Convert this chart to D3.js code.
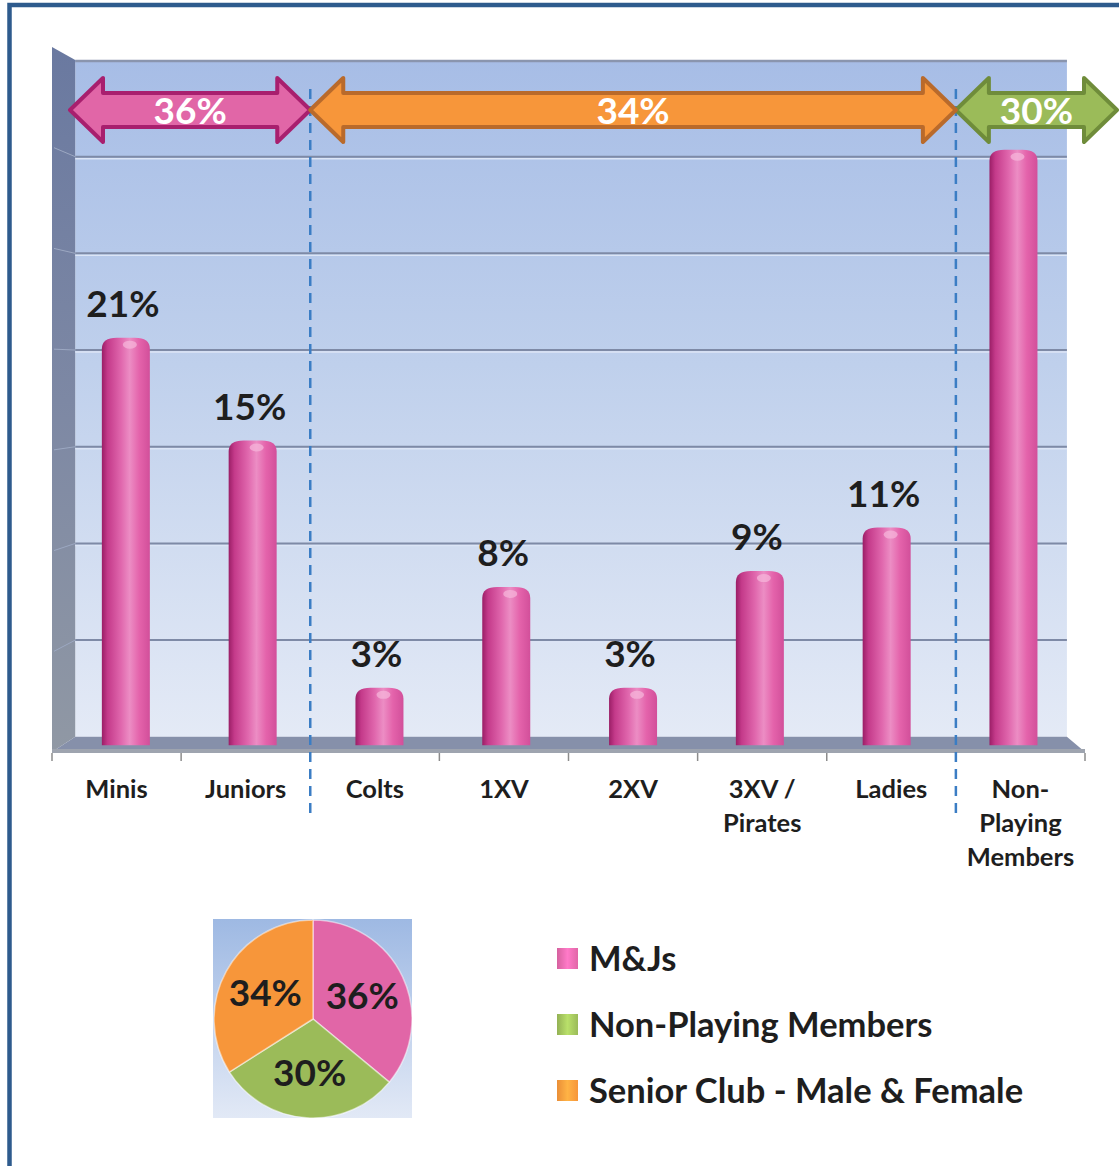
<!DOCTYPE html>
<html>
<head>
<meta charset="UTF-8">
<title>Membership</title>
<style>
    body { margin: 0; background: #fff; }
    text { font-family: Lato, "Open Sans", sans-serif; font-weight: bold; }
</style>
</head>
<body>
<script src="https://d3js.org/d3.v7.min.js"></script>
<script>
    // membership share per section (bars, % of members)
    var categories = ["Minis", "Juniors", "Colts", "1XV", "2XV", "3XV /\nPirates", "Ladies", "Non-\nPlaying\nMembers"];
    var values = [20.6, 15.4, 2.9, 8.0, 2.9, 8.8, 11.0, 30.1];
    var groupOf = [0, 0, 2, 2, 2, 2, 2, 1];   // which group each section belongs to

    // groups (legend + pie + arrows)
    var groupNames = ["M&Js", "Non-Playing Members", "Senior Club - Male & Female"];
    var groupShares = [36, 30, 34];
    var groupFill = ["#E166A7", "#9BBB59", "#F7963A"];
    var groupStroke = ["#A81F6E", "#6F8C3A", "#B96A2B"];

    var gridTicks = [5, 10, 15, 20, 25, 30];

    var W = 1119, H = 1166;

    var svg = d3.select("body").append("svg")
            .attr("width", W)
            .attr("height", H);

    var defs = svg.append("defs");

    function vGrad(id, stops) {
        var g = defs.append("linearGradient").attr("id", id)
                .attr("x1", 0).attr("y1", 0).attr("x2", 0).attr("y2", 1);
        stops.forEach(function (s) { g.append("stop").attr("offset", s[0]).attr("stop-color", s[1]); });
    }
    function hGrad(id, stops) {
        var g = defs.append("linearGradient").attr("id", id)
                .attr("x1", 0).attr("y1", 0).attr("x2", 1).attr("y2", 0);
        stops.forEach(function (s) { g.append("stop").attr("offset", s[0]).attr("stop-color", s[1]); });
    }

    vGrad("wall", [[0, "#A7BDE6"], [0.45, "#BFD0EC"], [1, "#E4EAF6"]]);
    vGrad("side", [[0, "#6A79A0"], [0.5, "#7D88A4"], [1, "#9098A4"]]);
    vGrad("pieBg", [[0, "#9EB9E3"], [1, "#E2E9F6"]]);
    hGrad("cyl", [[0, "#9A1E66"], [0.12, "#C43A8A"], [0.4, "#E067AD"], [0.58, "#EC8DC4"], [0.78, "#E463AB"], [1, "#D24F9A"]]);
    groupFill.forEach(function (c, i) {
        hGrad("leg" + i, [[0, d3.color(c).darker(0.15)], [0.5, d3.color(c).brighter(0.5)], [1, c]]);
    });

    // frame
    svg.append("rect")
            .attr("x", 9.5).attr("y", 5)
            .attr("width", W + 20).attr("height", H + 20)
            .attr("fill", "none")
            .attr("stroke", "#2E5B8D")
            .attr("stroke-width", 4.5);

    // front plane scales, depth is a perspective shrink toward a vanishing point
    var x = d3.scaleBand().domain(categories).range([52, 1085]).padding(0);
    var y = d3.scaleLinear().domain([0, 35]).range([752, 47]);
    var vx = 633, vy = 372;
    var kBack = 0.96, kBar = 0.982;
    function px(v, k) { return vx + (v - vx) * k; }
    function py(v, k) { return vy + (v - vy) * k; }

    var x0 = x.range()[0], x1 = x.range()[1];
    var plot = svg.append("g").attr("class", "plot");

    // back wall
    plot.append("rect")
            .attr("x", px(x0, kBack)).attr("y", py(y(35), kBack))
            .attr("width", px(x1, kBack) - px(x0, kBack))
            .attr("height", py(y(0), kBack) - py(y(35), kBack))
            .attr("fill", "url(#wall)");
    plot.append("line")
            .attr("x1", px(x0, kBack)).attr("x2", px(x1, kBack))
            .attr("y1", py(y(35), kBack) + 1).attr("y2", py(y(35), kBack) + 1)
            .attr("stroke", "#8A95AE").attr("stroke-width", 2.5);

    // side wall
    plot.append("path")
            .attr("d", "M" + x0 + "," + y(35) + "L" + px(x0, kBack) + "," + py(y(35), kBack) +
                    "L" + px(x0, kBack) + "," + py(y(0), kBack) + "L" + x0 + "," + y(0) + "Z")
            .attr("fill", "url(#side)");

    // gridlines on the back wall and side wall
    var grid = plot.append("g").attr("class", "grid");
    gridTicks.forEach(function (t) {
        var yb = py(y(t), kBack);
        grid.append("line")
                .attr("x1", px(x0, kBack)).attr("x2", px(x1, kBack))
                .attr("y1", yb + 2).attr("y2", yb + 2)
                .attr("stroke", "#DCE5F6").attr("stroke-width", 1.5);
        grid.append("line")
                .attr("x1", px(x0, kBack)).attr("x2", px(x1, kBack))
                .attr("y1", yb).attr("y2", yb)
                .attr("stroke", "#7E8AA6").attr("stroke-width", 2);
        grid.append("line")
                .attr("x1", x0 + 2).attr("x2", px(x0, kBack))
                .attr("y1", y(t)).attr("y2", yb)
                .attr("stroke", "#9CA8C2").attr("stroke-width", 1);
    });

    // floor
    plot.append("path")
            .attr("d", "M" + x0 + "," + y(0) + "L" + px(x0, kBack) + "," + py(y(0), kBack) +
                    "L" + px(x1, kBack) + "," + py(y(0), kBack) + "L" + x1 + "," + y(0) + "Z")
            .attr("fill", "#8690AA");
    plot.append("rect")
            .attr("x", x0).attr("y", y(0) - 3)
            .attr("width", x1 - x0).attr("height", 4)
            .attr("fill", "#9EA4AF");

    // category ticks
    plot.append("g").selectAll("line")
            .data(categories.concat([null]))
            .join("line")
            .attr("x1", function (d, i) { return x0 + i * x.bandwidth(); })
            .attr("x2", function (d, i) { return x0 + i * x.bandwidth(); })
            .attr("y1", y(0) + 1).attr("y2", y(0) + 9)
            .attr("stroke", "#8C8C8C").attr("stroke-width", 1.5);

    // bars as cylinders
    var barW = 48, capR = 11;
    function barPath(d, i) {
        var c = px(x(categories[i]) + x.bandwidth() / 2, kBar);
        var l = c - barW / 2, r = c + barW / 2;
        var top = py(y(d), kBar), base = py(y(0), kBar);
        return "M" + l + "," + base + "V" + (top + capR) +
                "Q" + l + "," + top + " " + (l + capR + 4) + "," + top +
                "H" + (r - capR - 4) +
                "Q" + r + "," + top + " " + r + "," + (top + capR) +
                "V" + base + "Z";
    }
    plot.append("g").selectAll("path")
            .data(values)
            .join("path")
            .attr("d", barPath)
            .attr("fill", "url(#cyl)");
    // small highlight on the cap
    plot.append("g").selectAll("ellipse")
            .data(values)
            .join("ellipse")
            .attr("cx", function (d, i) { return px(x(categories[i]) + x.bandwidth() / 2, kBar) + 4; })
            .attr("cy", function (d) { return py(y(d), kBar) + 7; })
            .attr("rx", 7).attr("ry", 4)
            .attr("fill", "#F6B8DC").attr("opacity", 0.7);

    // value labels (last one is hidden behind the arrow)
    var fmt = function (v) { return d3.format(".0f")(v) + "%"; };
    plot.append("g").selectAll("text")
            .data(values.slice(0, values.length - 1))
            .join("text")
            .attr("x", function (d, i) { return px(x(categories[i]) + x.bandwidth() / 2, kBar) - 3; })
            .attr("y", function (d) { return py(y(d), kBar) - 21; })
            .attr("text-anchor", "middle")
            .attr("font-size", 37)
            .attr("fill", "#1E1E1E")
            .text(fmt);

    // category labels
    var catG = svg.append("g").attr("class", "x axis");
    categories.forEach(function (c) {
        var t = catG.append("text")
                .attr("x", x(c) + x.bandwidth() / 2)
                .attr("y", 798)
                .attr("text-anchor", "middle")
                .attr("font-size", 25.5)
                .attr("fill", "#1E1E1E");
        c.split("\n").forEach(function (line, j) {
            t.append("tspan")
                    .attr("x", x(c) + x.bandwidth() / 2)
                    .attr("y", 798 + j * 34)
                    .text(line);
        });
    });

    // group extents on the category scale
    var extents = groupNames.map(function (g, gi) {
        var idx = d3.range(categories.length).filter(function (i) { return groupOf[i] === gi; });
        var a = x(categories[d3.min(idx)]), b = x(categories[d3.max(idx)]) + x.bandwidth();
        if (d3.min(idx) === 0) a += 18;
        if (d3.max(idx) === categories.length - 1) b += 32;
        return {g: gi, a: a, b: b};
    });

    // dashed dividers between groups
    var cuts = [];
    for (var i = 1; i < categories.length; i++) {
        if (groupOf[i] !== groupOf[i - 1]) cuts.push(x(categories[i]));
    }
    svg.append("g").selectAll("line")
            .data(cuts)
            .join("line")
            .attr("x1", function (d) { return d; }).attr("x2", function (d) { return d; })
            .attr("y1", 89).attr("y2", 818)
            .attr("stroke", "#3B7DC4")
            .attr("stroke-width", 2.5)
            .attr("stroke-dasharray", "10,7");

    // double arrows
    var ay = 110, headH = 32, shaftH = 17, headL = 33;
    function arrowPath(a, b) {
        return "M" + a + "," + ay +
                "L" + (a + headL) + "," + (ay - headH) +
                "V" + (ay - shaftH) + "H" + (b - headL) +
                "V" + (ay - headH) + "L" + b + "," + ay +
                "L" + (b - headL) + "," + (ay + headH) +
                "V" + (ay + shaftH) + "H" + (a + headL) +
                "V" + (ay + headH) + "Z";
    }
    var arrows = svg.append("g").attr("class", "arrows");
    arrows.selectAll("path")
            .data(extents)
            .join("path")
            .attr("d", function (d) { return arrowPath(d.a, d.b); })
            .attr("fill", function (d) { return groupFill[d.g]; })
            .attr("stroke", function (d) { return groupStroke[d.g]; })
            .attr("stroke-width", 4)
            .attr("stroke-linejoin", "round");
    arrows.selectAll("text")
            .data(extents)
            .join("text")
            .attr("x", function (d) { return (d.a + d.b) / 2; })
            .attr("y", ay + 14)
            .attr("text-anchor", "middle")
            .attr("font-size", 37)
            .attr("fill", "#fff")
            .text(function (d) { return groupShares[d.g] + "%"; });

    // pie
    var pcx = 313, pcy = 1019, pr = 99;
    svg.append("rect")
            .attr("x", 213).attr("y", 919)
            .attr("width", 199).attr("height", 199)
            .attr("fill", "url(#pieBg)");
    var pie = d3.pie().sort(null)(groupShares);
    var arc = d3.arc().innerRadius(0).outerRadius(pr);
    var labelArc = d3.arc().innerRadius(pr * 0.55).outerRadius(pr * 0.55);
    var pg = svg.append("g").attr("transform", "translate(" + pcx + "," + pcy + ")");
    pg.selectAll("path")
            .data(pie)
            .join("path")
            .attr("d", arc)
            .attr("fill", function (d, i) { return groupFill[i]; })
            .attr("stroke", "#fff")
            .attr("stroke-opacity", 0.5)
            .attr("stroke-width", 1.5);
    pg.selectAll("text")
            .data(pie)
            .join("text")
            .attr("x", function (d) { return labelArc.centroid(d)[0]; })
            .attr("y", function (d) { return labelArc.centroid(d)[1] + 13; })
            .attr("text-anchor", "middle")
            .attr("font-size", 37)
            .attr("fill", "#1E1E1E")
            .text(function (d) { return d.data + "%"; });

    // legend
    var leg = svg.append("g").attr("transform", "translate(557,948)");
    var item = leg.selectAll("g")
            .data(groupNames)
            .join("g")
            .attr("transform", function (d, i) { return "translate(0," + i * 66 + ")"; });
    item.append("rect")
            .attr("width", 21).attr("height", 21)
            .attr("fill", function (d, i) { return "url(#leg" + i + ")"; });
    item.append("text")
            .attr("x", 32).attr("y", 23)
            .attr("font-size", 34.5)
            .attr("fill", "#1E1E1E")
            .text(function (d) { return d; });
</script>
</body>
</html>
